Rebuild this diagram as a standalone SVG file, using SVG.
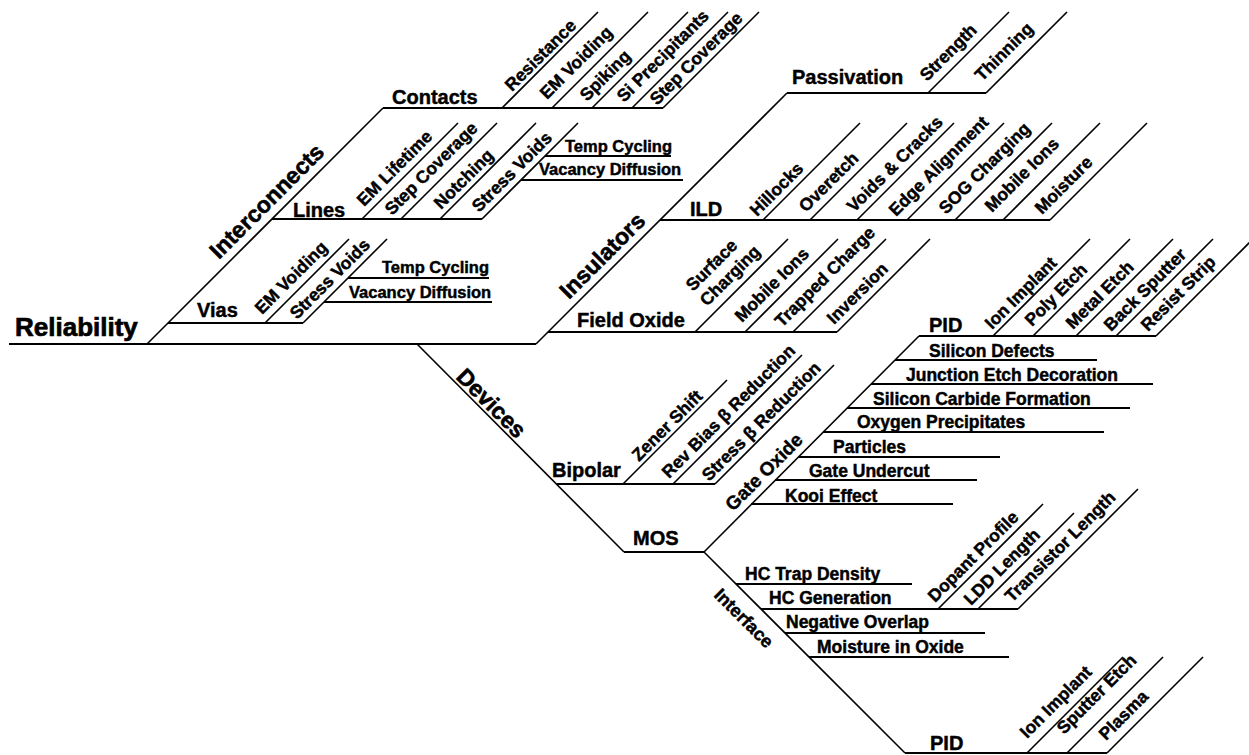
<svg xmlns="http://www.w3.org/2000/svg" width="1249" height="755" viewBox="0 0 1249 755">
<style>
.t{font-family:"Liberation Sans",Arial,sans-serif;font-weight:bold;fill:#000;stroke:#000;stroke-width:0.45}
.root{font-size:26px;stroke-width:0.7}
.l1{font-size:23px;stroke-width:0.6}
.l2{font-size:20px}
.lf{font-size:17.5px}
.sm{font-size:16.5px}
.h{stroke:#000;stroke-width:2;fill:none}
.d{stroke:#000;stroke-width:1.6;fill:none}
</style>
<rect width="1249" height="755" fill="#fff"/>
<g id="connectors">
<path class="h" d="M9,344H536"/>
<path class="d" d="M147,344L383,108"/>
<path class="h" d="M383,108H663"/>
<path class="d" d="M502,108L598,12M552,108L648,12M592,108L688,12M632,108L728,12M663,108L759,12"/>
<path class="h" d="M272,219H482"/>
<path class="d" d="M362,219L458,123M401,219L497,123M440,219L536,123M482,219L578,123"/>
<path class="h" d="M545,156H671M521,180H683"/>
<path class="h" d="M168,323H303"/>
<path class="d" d="M265,323L349,239M303,323L387,239"/>
<path class="h" d="M348,278H489M324,302H492"/>
<path class="d" d="M536,344L787,93"/>
<path class="h" d="M548,332H837"/>
<path class="d" d="M695,332L788,239M745,332L838,239M793,332L886,239M837,332L930,239"/>
<path class="h" d="M660,220H1050"/>
<path class="d" d="M763,220L860,123M810,220L907,123M857,220L954,123M907,220L1004,123M955,220L1052,123M1003,220L1100,123M1050,220L1147,123"/>
<path class="h" d="M787,93H986"/>
<path class="d" d="M928,93L1009,12M986,93L1067,12"/>
<path class="d" d="M417,344L624,552"/>
<path class="h" d="M557,484H715"/>
<path class="d" d="M623,484L727,380M673,484L802,355M715,484L834,365"/>
<path class="h" d="M624,552H704"/>
<path class="d" d="M704,552L919,336"/>
<path class="h" d="M919,336H1156"/>
<path class="d" d="M993,336L1090,239M1033,336L1130,239M1076,336L1173,239M1116,336L1213,239M1156,336L1253,239"/>
<path class="h" d="M895,360H1097M871,384H1153M847,408H1130M823,432H1104M798,457H1000M775,480H977M751,504H953"/>
<path class="d" d="M704,552L905,753"/>
<path class="h" d="M736,584H912M761,609H1018M785,633H985M809,657H1009"/>
<path class="d" d="M938,609L1043,504M978,609L1074,513M1018,609L1138,489"/>
<path class="h" d="M905,753H1107"/>
<path class="d" d="M1027,753L1123,657M1067,753L1163,657M1107,753L1203,657"/>
</g>
<g id="reliability"><text class="t root" x="15" y="336">Reliability</text></g>
<g id="interconnects"><text class="t l1" transform="translate(219,260) rotate(-45)">Interconnects</text></g>
<g id="contacts"><text class="t l2" x="392" y="104">Contacts</text></g>
<g id="contacts-resistance"><text class="t lf" transform="translate(512,92) rotate(-45)">Resistance</text></g>
<g id="contacts-em-voiding"><text class="t lf" transform="translate(547,100) rotate(-45)">EM Voiding</text></g>
<g id="contacts-spiking"><text class="t lf" transform="translate(587,102) rotate(-45)">Spiking</text></g>
<g id="contacts-si-precipitants"><text class="t lf" transform="translate(624,103) rotate(-45)">Si Precipitants</text></g>
<g id="contacts-step-coverage"><text class="t lf" transform="translate(657,106) rotate(-45)">Step Coverage</text></g>
<g id="lines"><text class="t l2" x="293" y="217">Lines</text></g>
<g id="lines-em-lifetime"><text class="t lf" transform="translate(364,207) rotate(-45)">EM Lifetime</text></g>
<g id="lines-step-coverage"><text class="t lf" transform="translate(392,216) rotate(-45)">Step Coverage</text></g>
<g id="lines-notching"><text class="t lf" transform="translate(441,210) rotate(-45)">Notching</text></g>
<g id="lines-stress-voids"><text class="t lf" transform="translate(479,213) rotate(-45)">Stress Voids</text></g>
<g id="lines-temp-cycling"><text class="t sm" x="565" y="152">Temp Cycling</text></g>
<g id="lines-vacancy-diffusion"><text class="t sm" x="539" y="175">Vacancy Diffusion</text></g>
<g id="vias"><text class="t l2" x="197" y="317">Vias</text></g>
<g id="vias-em-voiding"><text class="t lf" transform="translate(262,315) rotate(-45)">EM Voiding</text></g>
<g id="vias-stress-voids"><text class="t lf" transform="translate(297,320) rotate(-45)">Stress Voids</text></g>
<g id="vias-temp-cycling"><text class="t sm" x="382" y="273">Temp Cycling</text></g>
<g id="vias-vacancy-diffusion"><text class="t sm" x="349" y="298">Vacancy Diffusion</text></g>
<g id="insulators"><text class="t l1" transform="translate(569,300) rotate(-45)">Insulators</text></g>
<g id="field-oxide"><text class="t l2" x="577" y="327">Field Oxide</text></g>
<g id="fo-surface-charging"><text class="t lf" transform="translate(693,292) rotate(-45)">Surface</text><text class="t lf" transform="translate(707,307) rotate(-45)">Charging</text></g>
<g id="fo-mobile-ions"><text class="t lf" transform="translate(742,323) rotate(-45)">Mobile Ions</text></g>
<g id="fo-trapped-charge"><text class="t lf" transform="translate(782,328) rotate(-45)">Trapped Charge</text></g>
<g id="fo-inversion"><text class="t lf" transform="translate(834,325) rotate(-45)">Inversion</text></g>
<g id="ild"><text class="t l2" x="690" y="216">ILD</text></g>
<g id="ild-hillocks"><text class="t lf" transform="translate(757,217) rotate(-45)">Hillocks</text></g>
<g id="ild-overetch"><text class="t lf" transform="translate(806,213) rotate(-45)">Overetch</text></g>
<g id="ild-voids-cracks"><text class="t lf" transform="translate(854,213) rotate(-45)">Voids &amp; Cracks</text></g>
<g id="ild-edge-alignment"><text class="t lf" transform="translate(896,217) rotate(-45)">Edge Alignment</text></g>
<g id="ild-sog-charging"><text class="t lf" transform="translate(946,215) rotate(-45)">SOG Charging</text></g>
<g id="ild-mobile-ions"><text class="t lf" transform="translate(992,213) rotate(-45)">Mobile Ions</text></g>
<g id="ild-moisture"><text class="t lf" transform="translate(1042,215) rotate(-45)">Moisture</text></g>
<g id="passivation"><text class="t l2" x="792" y="84">Passivation</text></g>
<g id="pass-strength"><text class="t lf" transform="translate(927,82) rotate(-45)">Strength</text></g>
<g id="pass-thinning"><text class="t lf" transform="translate(982,82) rotate(-45)">Thinning</text></g>
<g id="devices"><text class="t l1" transform="translate(455,378) rotate(45)">Devices</text></g>
<g id="bipolar"><text class="t l2" x="552" y="477">Bipolar</text></g>
<g id="bip-zener-shift"><text class="t lf" transform="translate(639,462) rotate(-45)">Zener Shift</text></g>
<g id="bip-rev-bias"><text class="t lf" transform="translate(669,479) rotate(-45)">Rev Bias β Reduction</text></g>
<g id="bip-stress"><text class="t lf" transform="translate(709,482) rotate(-45)">Stress β Reduction</text></g>
<g id="mos"><text class="t l2" x="633" y="545">MOS</text></g>
<g id="gate-oxide"><text class="t l2" style="font-size:19px" transform="translate(733,512) rotate(-45)">Gate Oxide</text></g>
<g id="pid-top"><text class="t l2" x="929" y="332">PID</text></g>
<g id="pid-ion-implant"><text class="t lf" transform="translate(992,330) rotate(-45)">Ion Implant</text></g>
<g id="pid-poly-etch"><text class="t lf" transform="translate(1032,327) rotate(-45)">Poly Etch</text></g>
<g id="pid-metal-etch"><text class="t lf" transform="translate(1073,330) rotate(-45)">Metal Etch</text></g>
<g id="pid-back-sputter"><text class="t lf" transform="translate(1111,332) rotate(-45)">Back Sputter</text></g>
<g id="pid-resist-strip"><text class="t lf" transform="translate(1148,332) rotate(-45)">Resist Strip</text></g>
<g id="go-silicon-defects"><text class="t lf" x="929" y="357">Silicon Defects</text></g>
<g id="go-junction-etch"><text class="t lf" x="906" y="381">Junction Etch Decoration</text></g>
<g id="go-silicon-carbide"><text class="t lf" x="873" y="405">Silicon Carbide Formation</text></g>
<g id="go-oxygen"><text class="t lf" x="857" y="428">Oxygen Precipitates</text></g>
<g id="go-particles"><text class="t lf" x="833" y="453">Particles</text></g>
<g id="go-gate-undercut"><text class="t lf" x="809" y="477">Gate Undercut</text></g>
<g id="go-kooi"><text class="t lf" x="785" y="502">Kooi Effect</text></g>
<g id="interface"><text class="t lf" style="font-size:18px" transform="translate(713,596) rotate(45)">Interface</text></g>
<g id="if-hc-trap"><text class="t lf" x="745" y="580">HC Trap Density</text></g>
<g id="if-hc-gen"><text class="t lf" x="769" y="604">HC Generation</text></g>
<g id="hc-dopant"><text class="t lf" transform="translate(935,603) rotate(-45)">Dopant Profile</text></g>
<g id="hc-ldd"><text class="t lf" transform="translate(971,606) rotate(-45)">LDD Length</text></g>
<g id="hc-transistor"><text class="t lf" transform="translate(1012,603) rotate(-45)">Transistor Length</text></g>
<g id="if-negative-overlap"><text class="t lf" x="786" y="628">Negative Overlap</text></g>
<g id="if-moisture"><text class="t lf" x="817" y="653">Moisture in Oxide</text></g>
<g id="pid-bottom"><text class="t l2" x="930" y="750">PID</text></g>
<g id="pidb-ion-implant"><text class="t lf" transform="translate(1027,739) rotate(-45)">Ion Implant</text></g>
<g id="pidb-sputter-etch"><text class="t lf" transform="translate(1064,735) rotate(-45)">Sputter Etch</text></g>
<g id="pidb-plasma"><text class="t lf" transform="translate(1106,741) rotate(-45)">Plasma</text></g>
</svg>
